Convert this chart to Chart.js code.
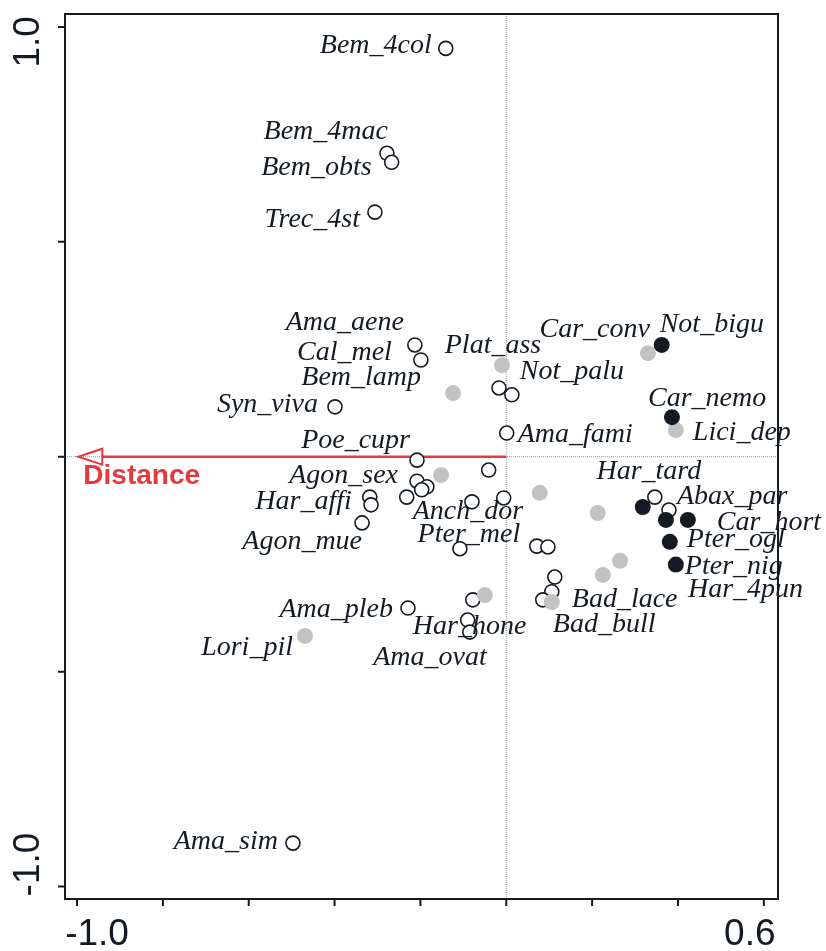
<!DOCTYPE html>
<html>
<head>
<meta charset="utf-8">
<script src="https://cdn.jsdelivr.net/npm/chart.js@4.4.1/dist/chart.umd.min.js"></script>
<style>
  body { margin: 0; background: #fff; }
  #plot { display: block; }
</style>
</head>
<body>
<canvas id="plot" width="826" height="951"></canvas>
<script>
// species scores, axis 1 (x) and axis 2 (y)
// open circles
let openX = [-0.141, -0.278, -0.267, -0.306, -0.213, -0.199, -0.399, -0.017, 0.013, 0.001,
             -0.208, -0.041, -0.208, -0.185, -0.197, -0.232, -0.318, -0.315, -0.336, -0.080,
             -0.006, -0.108, 0.071, 0.097, 0.346, 0.379, 0.113, 0.106, 0.085, -0.078,
             -0.229, -0.090, -0.085, -0.497];
let openY = [0.950, 0.706, 0.685, 0.569, 0.260, 0.225, 0.116, 0.160, 0.144, 0.055,
             -0.008, -0.031, -0.057, -0.070, -0.077, -0.094, -0.094, -0.112, -0.154, -0.105,
             -0.096, -0.214, -0.208, -0.210, -0.094, -0.124, -0.280, -0.314, -0.333, -0.333,
             -0.352, -0.380, -0.408, -0.899];
let openNames = ["Bem_4col", "Bem_4mac", "Bem_obts", "Trec_4st", "Ama_aene", "Cal_mel", "Syn_viva", "", "Not_palu", "Ama_fami",
                 "Poe_cupr", "", "Agon_sex", "", "", "", "Har_affi", "", "Agon_mue", "Anch_dor",
                 "", "Pter_mel", "", "", "Har_tard", "Abax_par", "", "Bad_lace", "", "",
                 "Ama_pleb", "Har_hone", "Ama_ovat", "Ama_sim"];

// grey filled circles
let greyX = [-0.124, -0.010, -0.152, 0.078, 0.213, 0.265, 0.225, -0.050, 0.106, -0.469, 0.330, 0.395];
let greyY = [0.148, 0.213, -0.043, -0.084, -0.131, -0.242, -0.275, -0.322, -0.338, -0.417, 0.241, 0.062];
let greyNames = ["Bem_lamp", "Plat_ass", "", "", "", "", "", "", "Bad_bull", "Lori_pil", "Car_conv", "Lici_dep"];

// black filled circles
let blackX = [0.362, 0.386, 0.318, 0.372, 0.423, 0.381, 0.395];
let blackY = [0.260, 0.092, -0.117, -0.147, -0.147, -0.198, -0.251];
let blackNames = ["Not_bigu", "Car_nemo", "", "Har_4pun", "Car_hort", "Pter_ogl", "Pter_nig"];

// environmental vector
let envNames = ["Distance"];
let envX = [-0.997];
let envY = [0];

let xTicks = [-1.0, -0.8, -0.6, -0.4, -0.2, 0, 0.2, 0.4, 0.6];
let yTicks = [-1.0, -0.5, 0, 0.5, 1.0];
let xTickLabels = {"-1": "-1.0", "0.6": "0.6"};
let yTickLabels = {"-1": "-1.0", "1": "1.0"};

function pts(xs, ys) {
  return xs.map((x, i) => ({x: x, y: ys[i]}));
}

// label placement: [dx, dy, align] in px from the point
let labelPlace = {
  Bem_4col: [-14, -3, "right"], Bem_4mac: [1, -22, "right"], Bem_obts: [-20, 5, "right"],
  Trec_4st: [-15, 7, "right"], Ama_aene: [-11, -22, "right"], Cal_mel: [-29, -7, "right"],
  Bem_lamp: [-32, -15, "right"], Syn_viva: [-17, -2, "right"], Poe_cupr: [-7, -20, "right"],
  Agon_sex: [-19, -6, "right"], Har_affi: [-18, 5, "right"], Agon_mue: [0, 19, "right"],
  Ama_pleb: [-15, 2, "right"], Lori_pil: [-12, 12, "right"], Ama_sim: [-15, -1, "right"],
  Ama_ovat: [17, 26, "right"], Har_hone: [2, 7, "center"], Anch_dor: [-4, 10, "center"],
  Pter_mel: [9, -14, "center"], Plat_ass: [-9, -20, "center"], Not_palu: [8, -23, "left"],
  Ama_fami: [11, 2, "left"], Car_conv: [2, -23, "right"], Not_bigu: [-2, -20, "left"],
  Car_nemo: [-24, -19, "left"], Lici_dep: [17, 3, "left"], Har_tard: [-6, -25, "center"],
  Abax_par: [8, -13, "left"], Car_hort: [29, 3, "left"], Pter_ogl: [17, -2, "left"],
  Pter_nig: [9, 2, "left"], Har_4pun: [22, 70, "left"], Bad_lace: [20, 8, "left"],
  Bad_bull: [1, 23, "left"]
};

const ink = "#141a22";
const red = "#e43a3c";

// reference lines, arrow, frame
const backdrop = {
  id: "backdrop",
  beforeDatasetsDraw(chart) {
    const ctx = chart.ctx, a = chart.chartArea;
    const xs = chart.scales.x, ys = chart.scales.y;
    const x0 = xs.getPixelForValue(0), y0 = ys.getPixelForValue(0);
    ctx.save();
    ctx.strokeStyle = "#9a9a9a";
    ctx.lineWidth = 1;
    ctx.setLineDash([1, 1]);
    ctx.beginPath();
    ctx.moveTo(x0, a.top); ctx.lineTo(x0, a.bottom);
    ctx.moveTo(a.left, y0); ctx.lineTo(a.right, y0);
    ctx.stroke();
    ctx.setLineDash([]);

    // environmental arrows
    envNames.forEach((name, i) => {
      const tx = xs.getPixelForValue(envX[i]), ty = ys.getPixelForValue(envY[i]);
      const bx = tx + 24;
      ctx.strokeStyle = red;
      ctx.lineWidth = 2.5;
      ctx.beginPath();
      ctx.moveTo(x0, y0); ctx.lineTo(bx, ty);
      ctx.stroke();
      ctx.lineWidth = 2;
      ctx.beginPath();
      ctx.moveTo(tx, ty); ctx.lineTo(bx, ty - 8); ctx.lineTo(bx, ty + 8); ctx.closePath();
      ctx.stroke();
      ctx.fillStyle = red;
      ctx.font = "bold 28px 'Liberation Sans', Arial, sans-serif";
      ctx.textAlign = "left";
      ctx.textBaseline = "middle";
      ctx.fillText(name, tx + 5, ty + 20);
    });
    ctx.restore();
  },
  afterDatasetsDraw(chart) {
    const ctx = chart.ctx, a = chart.chartArea;
    const xs = chart.scales.x, ys = chart.scales.y;
    ctx.save();

    // species labels
    ctx.fillStyle = ink;
    ctx.font = "italic 28px 'Liberation Serif', 'Times New Roman', serif";
    ctx.textBaseline = "middle";
    const sets = [[openX, openY, openNames], [greyX, greyY, greyNames], [blackX, blackY, blackNames]];
    sets.forEach(s => {
      s[2].forEach((name, i) => {
        if (!name || !labelPlace[name]) return;
        const p = labelPlace[name];
        ctx.textAlign = p[2];
        ctx.fillText(name, xs.getPixelForValue(s[0][i]) + p[0], ys.getPixelForValue(s[1][i]) + p[1]);
      });
    });

    // frame and ticks
    ctx.strokeStyle = ink;
    ctx.lineWidth = 2;
    ctx.strokeRect(a.left, a.top, a.right - a.left, a.bottom - a.top);
    ctx.beginPath();
    xTicks.forEach(t => {
      const px = xs.getPixelForValue(t);
      ctx.moveTo(px, a.bottom); ctx.lineTo(px, a.bottom + 7);
    });
    yTicks.forEach(t => {
      const py = ys.getPixelForValue(t);
      ctx.moveTo(a.left, py); ctx.lineTo(a.left - 7, py);
    });
    ctx.stroke();

    ctx.fillStyle = ink;
    ctx.font = "37px 'Liberation Sans', Arial, sans-serif";
    ctx.textBaseline = "middle";
    ctx.textAlign = "center";
    xTicks.forEach((t, i) => {
      const lab = xTickLabels[String(t)];
      if (!lab) return;
      const shift = i === 0 ? 20 : -14;
      ctx.fillText(lab, xs.getPixelForValue(t) + shift, a.bottom + 36);
    });
    yTicks.forEach((t, i) => {
      const lab = yTickLabels[String(t)];
      if (!lab) return;
      const shift = i === 0 ? -22 : 15;
      ctx.save();
      ctx.translate(a.left - 36, ys.getPixelForValue(t) + shift);
      ctx.rotate(-Math.PI / 2);
      ctx.fillText(lab, 0, 0);
      ctx.restore();
    });
    ctx.restore();
  }
};

new Chart(document.getElementById("plot"), {
  type: "scatter",
  data: {
    datasets: [
      {
        label: "open",
        data: pts(openX, openY),
        pointRadius: 7,
        pointBorderWidth: 1.6,
        pointBackgroundColor: "#ffffff",
        pointBorderColor: ink,
        order: 3
      },
      {
        label: "grey",
        data: pts(greyX, greyY),
        pointRadius: 8,
        pointBorderWidth: 0,
        pointBackgroundColor: "#c2c2c2",
        pointBorderColor: "#c2c2c2",
        order: 2
      },
      {
        label: "black",
        data: pts(blackX, blackY),
        pointRadius: 8,
        pointBorderWidth: 0,
        pointBackgroundColor: ink,
        pointBorderColor: ink,
        order: 1
      }
    ]
  },
  options: {
    responsive: false,
    animation: false,
    layout: { padding: { left: 65, right: 48, top: 14, bottom: 52 } },
    scales: {
      x: { type: "linear", display: false, min: -1.028, max: 0.633 },
      y: { type: "linear", display: false, min: -1.029, max: 1.03 }
    },
    plugins: {
      legend: { display: false },
      tooltip: { enabled: false }
    }
  },
  plugins: [backdrop]
});
</script>
</body>
</html>
